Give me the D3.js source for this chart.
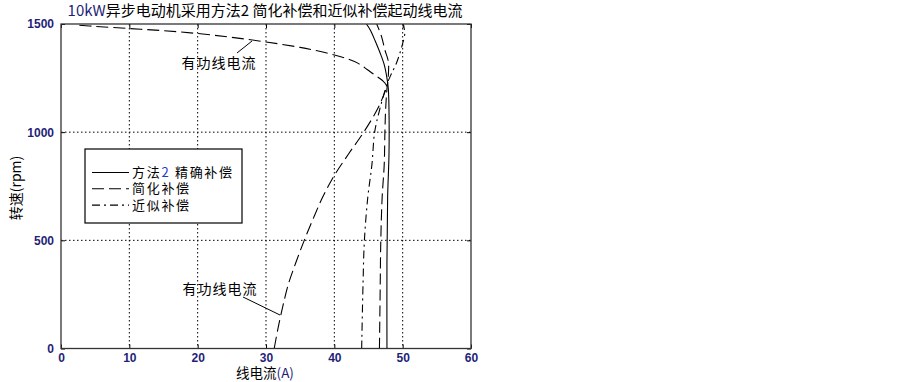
<!DOCTYPE html>
<html>
<head>
<meta charset="utf-8">
<script src="https://cdn.jsdelivr.net/npm/d3@7"></script>
<style>
  body { margin: 0; background: #fff; }
  svg { display: block; }
  .cjk { font-family: "Noto Sans CJK SC", sans-serif; }
</style>
</head>
<body>
<div id="chart"></div>
<script>
// tick labels
var xTicks = [0, 10, 20, 30, 40, 50, 60];
var yTicks = [0, 500, 1000, 1500];

// 有功线电流 (active line current), follows the curve from 0 rpm up and back
var activeI = [31.2, 31.8, 32.5, 33.3, 34.4, 35.6, 36.9, 38.3, 40.0, 42.1, 44.3, 46.2, 47.2, 47.6,
               47.0, 46.0, 44.8, 43.5, 42.0, 40.0, 37.5, 35.0, 30.0, 25.0, 20.0, 15.0, 10.0, 5.0, 2.5];
var activeN = [0, 100, 200, 300, 400, 500, 600, 700, 800, 900, 1000, 1100, 1170, 1215,
               1240, 1262, 1290, 1318, 1338, 1357, 1376, 1392, 1417, 1438, 1456, 1469, 1479, 1489, 1495];

// 方法2 精确补偿
var exactI = [47.7, 47.7, 47.8, 48.0, 48.0, 47.9, 47.7, 47.3, 46.7, 46.0, 45.3, 44.7];
var exactN = [0, 400, 700, 900, 1100, 1200, 1250, 1312, 1366, 1420, 1470, 1500];

// 简化补偿
var simpleI = [46.6, 46.7, 46.8, 47.0, 47.3, 47.4, 47.5, 47.7, 47.9, 47.9, 47.4, 46.9, 46.2];
var simpleN = [0, 250, 500, 700, 850, 1000, 1100, 1200, 1260, 1327, 1380, 1443, 1500];

// 近似补偿
var approxI = [44.0, 44.2, 44.4, 44.9, 45.5, 45.9, 46.6, 47.3, 47.8, 48.4, 49.1, 49.6, 50.0, 50.3, 50.1];
var approxN = [0, 300, 500, 700, 850, 1000, 1100, 1180, 1230, 1273, 1320, 1366, 1410, 1455, 1500];

var W = 903, H = 382;
var margin = {top: 24, right: 432, bottom: 33.5, left: 61};
var width = W - margin.left - margin.right,
    height = H - margin.top - margin.bottom;
var navy = "#1f1f78";

var svg = d3.select("#chart").append("svg")
    .attr("width", W)
    .attr("height", H);

var g = svg.append("g")
    .attr("transform", "translate(" + margin.left + "," + margin.top + ")");

var x = d3.scaleLinear().domain([0, 60]).range([0, width]);
var y = d3.scaleLinear().domain([0, 1500]).range([height, 0]);

// grid
g.selectAll(".vgrid")
    .data(xTicks.slice(1, -1))
  .enter().append("line")
    .attr("x1", function(d) { return x(d); })
    .attr("x2", function(d) { return x(d); })
    .attr("y1", 0).attr("y2", height)
    .attr("stroke", "#000").attr("stroke-width", 1)
    .attr("stroke-dasharray", "1.5,2.5");
g.selectAll(".hgrid")
    .data(yTicks.slice(1, -1))
  .enter().append("line")
    .attr("y1", function(d) { return y(d); })
    .attr("y2", function(d) { return y(d); })
    .attr("x1", 0).attr("x2", width)
    .attr("stroke", "#000").attr("stroke-width", 1)
    .attr("stroke-dasharray", "1.5,2.5");

// curves
function toPts(xs, ys) {
  return xs.map(function(v, i) { return [v, ys[i]]; });
}
var line = d3.line()
    .x(function(d) { return x(d[0]); })
    .y(function(d) { return y(d[1]); })
    .curve(d3.curveCatmullRom.alpha(0.5));

var series = [
  {pts: toPts(activeI, activeN), dash: "12,5"},
  {pts: toPts(exactI, exactN), dash: null},
  {pts: toPts(simpleI, simpleN), dash: "11,5"},
  {pts: toPts(approxI, approxN), dash: "8,4,2,4"}
];

g.append("defs").append("clipPath").attr("id", "clip")
  .append("rect").attr("width", width).attr("height", height + 1);

g.selectAll(".curve")
    .data(series)
  .enter().append("path")
    .attr("clip-path", "url(#clip)")
    .attr("d", function(d) { return line(d.pts); })
    .attr("fill", "none")
    .attr("stroke", "#000")
    .attr("stroke-width", 1.1)
    .attr("stroke-dasharray", function(d) { return d.dash; });

// axes box, ticks inside
function styleAxis(sel) {
  sel.select(".domain").remove();
  sel.selectAll(".tick line").attr("stroke", "#000");
  sel.selectAll(".tick text")
    .attr("fill", navy)
    .attr("font-family", "Liberation Sans, Arial, sans-serif")
    .attr("font-weight", "bold")
    .attr("font-size", 12);
}
var fmt = d3.format("d");
g.append("g")
    .attr("transform", "translate(0," + height + ")")
    .call(d3.axisBottom(x).tickValues(xTicks).tickFormat(fmt).tickSize(-4).tickPadding(5))
    .call(styleAxis);
g.append("g")
    .call(d3.axisTop(x).tickValues(xTicks).tickSize(-4).tickFormat(""))
    .call(styleAxis);
g.append("g")
    .call(d3.axisLeft(y).tickValues(yTicks).tickFormat(fmt).tickSize(-4).tickPadding(7))
    .call(styleAxis);
g.append("g")
    .attr("transform", "translate(" + width + ",0)")
    .call(d3.axisRight(y).tickValues(yTicks).tickSize(-4).tickFormat(""))
    .call(styleAxis);

g.append("rect")
    .attr("width", width).attr("height", height)
    .attr("fill", "none").attr("stroke", "#333").attr("stroke-width", 1.3);

// annotations
var ann = [
  {text: "有功线电流", tx: 219, ty: 68, lx1: 237, ly1: 53, lx2: 252, ly2: 41},
  {text: "有功线电流", tx: 220, ty: 294, lx1: 243, ly1: 297, lx2: 280, ly2: 315}
];
ann.forEach(function(a) {
  svg.append("text").attr("class", "cjk")
    .attr("x", a.tx).attr("y", a.ty)
    .attr("text-anchor", "middle")
    .attr("font-size", 14).attr("letter-spacing", 1)
    .text(a.text);
  svg.append("line")
    .attr("x1", a.lx1).attr("y1", a.ly1)
    .attr("x2", a.lx2).attr("y2", a.ly2)
    .attr("stroke", "#000").attr("stroke-width", 1);
});

// legend
var legend = svg.append("g").attr("transform", "translate(85,149)");
legend.append("rect")
    .attr("width", 157).attr("height", 74)
    .attr("fill", "#fff").attr("stroke", "#000").attr("stroke-width", 1.2);
var legItems = [
  {label: ["方法", "2", " 精确补偿"], dash: null},
  {label: ["简化补偿"], dash: "12,5"},
  {label: ["近似补偿"], dash: "8,4,2,4"}
];
legItems.forEach(function(d, i) {
  var yy = 23.5 + i * 16.3;
  legend.append("line")
      .attr("x1", 7).attr("x2", 44)
      .attr("y1", yy).attr("y2", yy)
      .attr("stroke", "#000").attr("stroke-width", 1.1)
      .attr("stroke-dasharray", d.dash);
  var t = legend.append("text").attr("class", "cjk")
      .attr("x", 47).attr("y", yy + 4.5)
      .attr("font-size", 13).attr("letter-spacing", 1.7);
  d.label.forEach(function(s) {
    t.append("tspan").attr("fill", s === "2" ? "#1a3cc8" : "#000").text(s);
  });
});

// title
var title = svg.append("text").attr("class", "cjk")
    .attr("x", 265).attr("y", 16)
    .attr("text-anchor", "middle")
    .attr("font-size", 15);
title.append("tspan").attr("fill", navy).text("10kW");
title.append("tspan").attr("fill", "#000").text("异步电动机采用方法2 简化补偿和近似补偿起动线电流");

// axis labels
var xl = svg.append("text").attr("class", "cjk")
    .attr("x", 265).attr("y", 378)
    .attr("text-anchor", "middle")
    .attr("font-size", 13.5);
xl.append("tspan").text("线电流");
xl.append("tspan").attr("fill", navy).text("(A)");

svg.append("text").attr("class", "cjk")
    .attr("transform", "translate(21,188) rotate(-90)")
    .attr("text-anchor", "middle")
    .attr("font-size", 14)
    .text("转速(rpm)");
</script>
</body>
</html>
